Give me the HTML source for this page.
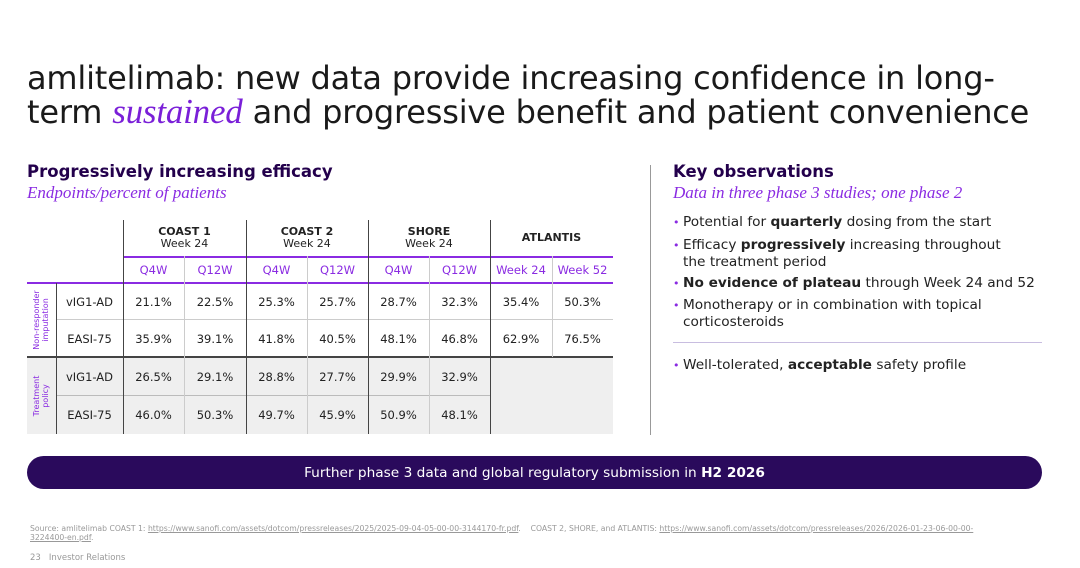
<!DOCTYPE html>
<html><head><meta charset="utf-8"><style>
*{margin:0;padding:0;box-sizing:border-box}
body{width:1080px;height:568px;background:#fff;position:relative;overflow:hidden;font-family:"DejaVu Sans","Liberation Sans",sans-serif;color:#222}
.a{position:absolute}
.title{left:27px;top:61px;font-size:32px;line-height:34px;color:#1a1a1a;letter-spacing:-0.2px;white-space:nowrap}
.title i{font-family:"Liberation Serif",serif;color:#7a1fd8;font-size:35px}
.h{font-weight:bold;font-size:16.5px;color:#23004c}
.sub{font-family:"Liberation Serif",serif;font-style:italic;font-size:17px;color:#8a2be2}
.cell{position:absolute;display:flex;align-items:center;justify-content:center;text-align:center;font-size:11.5px;color:#222}
.bl{position:absolute;font-size:13.7px;color:#222;line-height:17px}
.bl:before{content:"•";color:#8a2be2;position:absolute;left:-10px;font-size:11px}
</style></head><body>
<div class="a title">amlitelimab: new data provide increasing confidence in long-<br>term <i>sustained</i> and progressive benefit and patient convenience</div>
<div class="a h" style="left:27px;top:162px">Progressively increasing efficacy</div>
<div class="a sub" style="left:27px;top:183px">Endpoints/percent of patients</div>
<div class="a h" style="left:673px;top:162px">Key observations</div>
<div class="a sub" style="left:673px;top:183px">Data in three phase 3 studies; one phase 2</div>
<div class="a" style="left:650px;top:165px;width:1px;height:270px;background:#999"></div>
<div class="bl" style="left:683px;top:214px">Potential for <b>quarterly</b> dosing from the start</div>
<div class="bl" style="left:683px;top:237px">Efficacy <b>progressively</b> increasing throughout<br>the treatment period</div>
<div class="bl" style="left:683px;top:275px"><b>No evidence of plateau</b> through Week 24 and 52</div>
<div class="bl" style="left:683px;top:297px">Monotherapy or in combination with topical<br>corticosteroids</div>
<div class="a" style="left:673px;top:342px;width:369px;height:1px;background:#c8bde0"></div>
<div class="bl" style="left:683px;top:357px">Well-tolerated, <b>acceptable</b> safety profile</div>
<div class="a" style="left:27px;top:456px;width:1015px;height:33px;background:#2a0a5c;border-radius:17px;color:#fff;font-size:13.7px;display:flex;align-items:center;justify-content:center">Further phase 3 data and global regulatory submission in&nbsp;<b>H2 2026</b></div>
<div class="a" style="left:30px;top:524px;font-size:7.7px;color:#999;line-height:9px;width:980px">Source: amlitelimab COAST 1: <u>https://www.sanofi.com/assets/dotcom/pressreleases/2025/2025-09-04-05-00-00-3144170-fr.pdf</u>. &nbsp;&nbsp; COAST 2, SHORE, and ATLANTIS: <u>https://www.sanofi.com/assets/dotcom/pressreleases/2026/2026-01-23-06-00-00-3224400-en.pdf</u>.</div>
<div class="a" style="left:30px;top:553px;font-size:8.5px;color:#999">23 &nbsp; Investor Relations</div>
<div id="tbl"></div>
<script>
const studies=["COAST 1","COAST 2","SHORE","ATLANTIS"];
const studySub=["Week 24","Week 24","Week 24",""];
const arms=["Q4W","Q12W","Q4W","Q12W","Q4W","Q12W","Week 24","Week 52"];
const rowLabels=["vIG1-AD","EASI-75","vIG1-AD","EASI-75"];
const nriVig=["21.1%","22.5%","25.3%","25.7%","28.7%","32.3%","35.4%","50.3%"];
const nriEasi=["35.9%","39.1%","41.8%","40.5%","48.1%","46.8%","62.9%","76.5%"];
const tpVig=["26.5%","29.1%","28.8%","27.7%","29.9%","32.9%"];
const tpEasi=["46.0%","50.3%","49.7%","45.9%","50.9%","48.1%"];
const rows=[nriVig,nriEasi,tpVig,tpEasi];
const T=document.getElementById('tbl');
const X=[123,184,246,307,368,429,490,552,613];
const Y=[283,320,357,396,434];
function box(l,t,w,h,st){const d=document.createElement('div');d.className='a';d.style.cssText=`left:${l}px;top:${t}px;width:${w}px;height:${h}px;${st}`;T.appendChild(d);return d;}
let g=box(27,357,586,77,'background:#efefef');


rows.forEach((r,ri)=>{
  const c=document.createElement('div');c.className='cell';
  c.style.cssText=`left:56px;top:${Y[ri]}px;width:67px;height:${Y[ri+1]-Y[ri]}px`;
  c.textContent=rowLabels[ri];
  
  
  T.appendChild(c);
  r.forEach((v,ci)=>{
    const e=document.createElement('div');e.className='cell';
    e.style.cssText=`left:${X[ci]}px;top:${Y[ri]}px;width:${X[ci+1]-X[ci]}px;height:${Y[ri+1]-Y[ri]}px`;
    e.textContent=v;
    
    
    T.appendChild(e);
  });
});
arms.forEach((a,ci)=>{
  const e=document.createElement('div');e.className='cell';
  e.style.cssText=`left:${X[ci]}px;top:256px;width:${X[ci+1]-X[ci]}px;height:27px;color:#8a2be2`;
  e.textContent=a;
  
  
  T.appendChild(e);
});
studies.forEach((s,i)=>{
  const e=document.createElement('div');e.className='cell';
  e.style.cssText=`left:${X[i*2]}px;top:220px;width:${X[i*2+2]-X[i*2]}px;height:36px;line-height:12px;flex-direction:column;font-size:11px`;
  e.innerHTML='<b>'+s+'</b>'+(studySub[i]?'<span>'+studySub[i]+'</span>':'');
  
  
  T.appendChild(e);
});
box(123,256,490,2,'background:#8a2be2');
box(27,282,586,2,'background:#8a2be2');
box(56,319,557,1,'background:#ccc');
box(56,395,434,1,'background:#bbb');
box(27,356,586,2,'background:#444');
[0,2,4,6].forEach(i=>box(X[i],220,1,214,'background:#444'));
[1,3,5,7].forEach(i=>box(X[i],256,1,i==7?101:178,'background:#ccc'));
box(56,283,1,151,'background:#444');
const v1=document.createElement('div');v1.className='a';
v1.style.cssText='left:41px;top:320px;transform:translate(-50%,-50%) rotate(-90deg);font-size:8px;color:#8a2be2;text-align:center;line-height:9px;white-space:nowrap';
v1.innerHTML='Non-responder<br>imputation';


T.appendChild(v1);
const v2=document.createElement('div');v2.className='a';
v2.style.cssText='left:41px;top:396px;transform:translate(-50%,-50%) rotate(-90deg);font-size:8px;color:#8a2be2;text-align:center;line-height:9px;white-space:nowrap';
v2.innerHTML='Treatment<br>policy';


T.appendChild(v2);
</script>
</body></html>
